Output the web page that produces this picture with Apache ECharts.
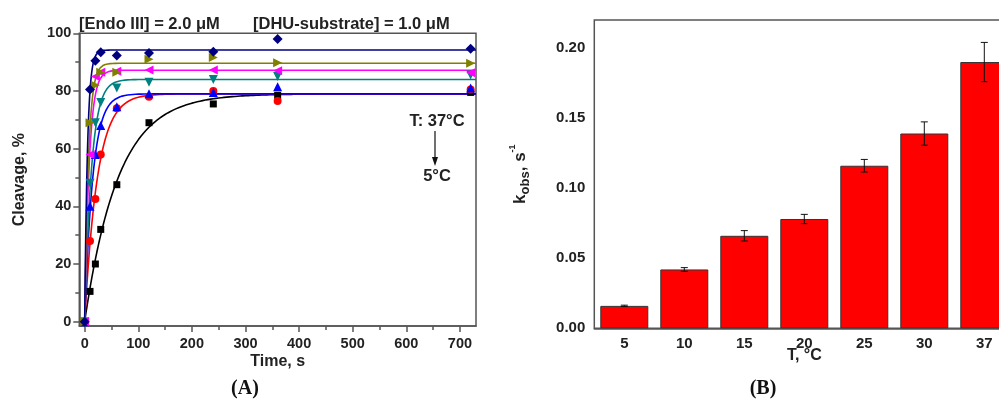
<!DOCTYPE html>
<html><head><meta charset="utf-8">
<script src="https://cdn.jsdelivr.net/npm/echarts@6/dist/echarts.min.js"></script>
<style>html,body{margin:0;padding:0;background:#fff}#c{width:999px;height:401px}</style>
</head><body><div id="c"></div>
<script>
// ---- Panel A data ----
const times = [0, 10, 20, 30, 60, 120, 240, 360, 720];
const cleave5C  = [0, 10.5, 20, 32, 47.5, 69, 75.5, 78.5, 79.5];
const cleave10C = [0, 28, 42.5, 58, 74, 78, 80, 76.5, 80.5];
const cleave15C = [0, 40, 58, 68, 74.5, 79, 79.5, 81.5, 81];
const cleave20C = [0, 48, 69, 76, 81, 83, 84, 85, 85.5];
const cleave25C = [0, 58, 85, 86.5, 86.8, 87.3, 87.3, 87, 86.3];
const cleave30C = [0, 69, 82, 86.5, 86.5, 91, 91.6, 89.8, 89.6];
const cleave37C = [0, 80.5, 90.5, 93.4, 92.3, 93.2, 93.6, 98, 94.6];
// fitted plateau (%) for each temperature curve
const fitPlateau = [79, 79, 79, 84, 87.2, 89.6, 94.2];
const xTicksA = [0, 100, 200, 300, 400, 500, 600, 700];
const yTicksA = [0, 20, 40, 60, 80, 100];

// ---- Panel B data ----
const temps = ['5', '10', '15', '20', '25', '30', '37'];
const kObs = [0.016, 0.042, 0.066, 0.078, 0.116, 0.139, 0.190];
const kErr = [0.0005, 0.0013, 0.0037, 0.0033, 0.0045, 0.0083, 0.014];
const yTicksB = [0, 0.05, 0.10, 0.15, 0.20];

const FONT = '"Liberation Sans", Arial, sans-serif';
const colors = ['#000000', '#ff0000', '#0000ff', '#008080', '#ff00ff', '#808000', '#000080'];
const symbols = ['rect', 'circle', 'triangle', 'triangle', 'triangle', 'triangle', 'diamond'];
const rotations = [0, 0, 0, 180, 90, -90, 0];
const sizes = [7, 8, 9, 9, 9, 9, 10];
const cleaveSets = [cleave5C, cleave10C, cleave15C, cleave20C, cleave25C, cleave30C, cleave37C];

function fitCurve(A, k) {
  const pts = [];
  for (let t = 0; t <= 60; t += 0.5) pts.push([t, A * (1 - Math.exp(-k * t))]);
  for (let t = 65; t <= 730; t += 5) pts.push([t, A * (1 - Math.exp(-k * t))]);
  return pts;
}

const seriesA = [];
for (let i = 0; i < 7; i++) {
  seriesA.push({
    type: 'line', xAxisIndex: 0, yAxisIndex: 0, data: fitCurve(fitPlateau[i], kObs[i]),
    showSymbol: false, symbol: 'none', lineStyle: { color: colors[i], width: 1.6 }, z: 2, silent: true, clip: true
  });
}
for (let i = 0; i < 7; i++) {
  seriesA.push({
    type: 'scatter', xAxisIndex: 0, yAxisIndex: 0,
    data: times.map((t, j) => [t, cleaveSets[i][j]]),
    symbol: symbols[i], symbolRotate: rotations[i], symbolSize: sizes[i],
    itemStyle: { color: colors[i], opacity: 1 }, z: 3
  });
}

const axisLineStyle = { color: '#555', width: 1.5 };
const labelA = { fontFamily: FONT, fontWeight: 'bold', fontSize: 14.5, color: '#222' };
const labelB = { fontFamily: FONT, fontWeight: 'bold', fontSize: 15, color: '#222' };
const nameStyle = { fontFamily: FONT, fontWeight: 'bold', fontSize: 16, color: '#222' };

const option = {
  animation: false,
  backgroundColor: '#fff',
  grid: [
    { left: 79.3, top: 33.3, right: 523, bottom: 75, show: true, borderColor: '#555', borderWidth: 1.5, outerBoundsMode: 'none', containLabel: false },
    { left: 594.3, top: 20, right: -15.3, bottom: 72.7, show: true, borderColor: '#555', borderWidth: 1.5, outerBoundsMode: 'none', containLabel: false }
  ],
  xAxis: [
    { type: 'value', gridIndex: 0, min: -10, max: 730, splitLine: { show: false },
      axisLine: { onZero: false, lineStyle: axisLineStyle },
      axisTick: { customValues: xTicksA, length: 6, lineStyle: axisLineStyle },
      axisLabel: Object.assign({ customValues: xTicksA, margin: 10 }, labelA),
      name: 'Time, s', nameLocation: 'middle', nameGap: 28, nameMoveOverlap: false,
      nameTextStyle: nameStyle },
    { type: 'value', gridIndex: 0, min: -10, max: 730, position: 'bottom', splitLine: { show: false },
      axisLine: { show: false, onZero: false },
      axisTick: { customValues: [50, 150, 250, 350, 450, 550, 650], length: 4, lineStyle: axisLineStyle },
      axisLabel: { show: false } },
    { type: 'category', gridIndex: 1, data: temps, boundaryGap: true,
      axisLine: { onZero: false, lineStyle: axisLineStyle },
      axisTick: { length: 5, lineStyle: axisLineStyle },
      axisLabel: Object.assign({ margin: 8 }, labelB),
      name: 'T, °C', nameLocation: 'middle', nameGap: 19, nameMoveOverlap: false,
      nameTextStyle: nameStyle }
  ],
  yAxis: [
    { type: 'value', gridIndex: 0, min: -1.5, max: 100, splitLine: { show: false },
      axisLine: { onZero: false, lineStyle: axisLineStyle },
      axisTick: { customValues: yTicksA, length: 6, lineStyle: axisLineStyle },
      axisLabel: Object.assign({ customValues: yTicksA, margin: 8 }, labelA),
      name: 'Cleavage, %', nameLocation: 'middle', nameGap: 52, nameMoveOverlap: false,
      nameTextStyle: nameStyle },
    { type: 'value', gridIndex: 0, min: -1.5, max: 100, position: 'left', splitLine: { show: false },
      axisLine: { show: false, onZero: false },
      axisTick: { customValues: [10, 30, 50, 70, 90], length: 4, lineStyle: axisLineStyle },
      axisLabel: { show: false } },
    { type: 'value', gridIndex: 1, min: 0, max: 0.22, splitLine: { show: false },
      axisLine: { onZero: false, lineStyle: axisLineStyle },
      axisTick: { customValues: yTicksB, length: 7, lineStyle: axisLineStyle },
      axisLabel: Object.assign({ customValues: yTicksB, margin: 9, formatter: v => v.toFixed(2) }, labelB),
      name: '{k|k}{sub|obs}{k|, s}{sup|-1}', nameLocation: 'middle', nameGap: 62, nameMoveOverlap: false,
      nameTextStyle: { rich: {
        k: { fontFamily: FONT, fontWeight: 'bold', fontSize: 17, color: '#222', lineHeight: 24 },
        sub: { fontFamily: FONT, fontWeight: 'bold', fontSize: 13, color: '#222', verticalAlign: 'bottom', lineHeight: 24 },
        sup: { fontFamily: FONT, fontWeight: 'bold', fontSize: 9, color: '#222', verticalAlign: 'top', lineHeight: 24 }
      } } },
    { type: 'value', gridIndex: 1, min: 0, max: 0.22, position: 'left', splitLine: { show: false },
      axisLine: { show: false, onZero: false },
      axisTick: { customValues: [0.025, 0.075, 0.125, 0.175], length: 4, lineStyle: axisLineStyle },
      axisLabel: { show: false } }
  ],
  series: seriesA.concat([
    { type: 'bar', xAxisIndex: 2, yAxisIndex: 2, data: kObs, barWidth: 48,
      itemStyle: { color: '#ff0000', borderColor: '#333', borderWidth: 1 } },
    { type: 'custom', xAxisIndex: 2, yAxisIndex: 2, z: 5,
      data: kObs.map((v, i) => [i, v - kErr[i], v + kErr[i]]),
      renderItem: function (params, api) {
        const lo = api.coord([api.value(0), api.value(1)]);
        const hi = api.coord([api.value(0), api.value(2)]);
        const w = 3.5;
        const st = { stroke: '#111', lineWidth: 1 };
        return { type: 'group', children: [
          { type: 'line', shape: { x1: lo[0], y1: lo[1], x2: hi[0], y2: hi[1] }, style: st },
          { type: 'line', shape: { x1: lo[0] - w, y1: lo[1], x2: lo[0] + w, y2: lo[1] }, style: st },
          { type: 'line', shape: { x1: hi[0] - w, y1: hi[1], x2: hi[0] + w, y2: hi[1] }, style: st }
        ] };
      } }
  ]),
  graphic: [
    { type: 'text', x: 79, y: 24, style: { text: '[Endo III] = 2.0 μM', font: 'bold 16.5px ' + FONT, fill: '#222', verticalAlign: 'middle', align: 'left' } },
    { type: 'text', x: 253, y: 24, style: { text: '[DHU-substrate] = 1.0 μM', font: 'bold 16.5px ' + FONT, fill: '#222', verticalAlign: 'middle', align: 'left' } },
    { type: 'text', x: 437, y: 121, style: { text: 'T: 37°C', font: 'bold 16.5px ' + FONT, fill: '#222', verticalAlign: 'middle', align: 'center' } },
    { type: 'text', x: 437, y: 176, style: { text: '5°C', font: 'bold 16.5px ' + FONT, fill: '#222', verticalAlign: 'middle', align: 'center' } },
    { type: 'line', shape: { x1: 435, y1: 131, x2: 435, y2: 159 }, style: { stroke: '#111', lineWidth: 1.2 } },
    { type: 'polygon', shape: { points: [[432, 157], [438, 157], [435, 166]] }, style: { fill: '#111' } },
    { type: 'text', x: 245, y: 389, style: { text: '(A)', font: 'bold 20px "Liberation Serif", serif', fill: '#111', verticalAlign: 'middle', align: 'center' } },
    { type: 'text', x: 763, y: 389, style: { text: '(B)', font: 'bold 20px "Liberation Serif", serif', fill: '#111', verticalAlign: 'middle', align: 'center' } }
  ]
};
const chart = echarts.init(document.getElementById('c'), null, { renderer: 'canvas' });
chart.setOption(option);
</script></body></html>
